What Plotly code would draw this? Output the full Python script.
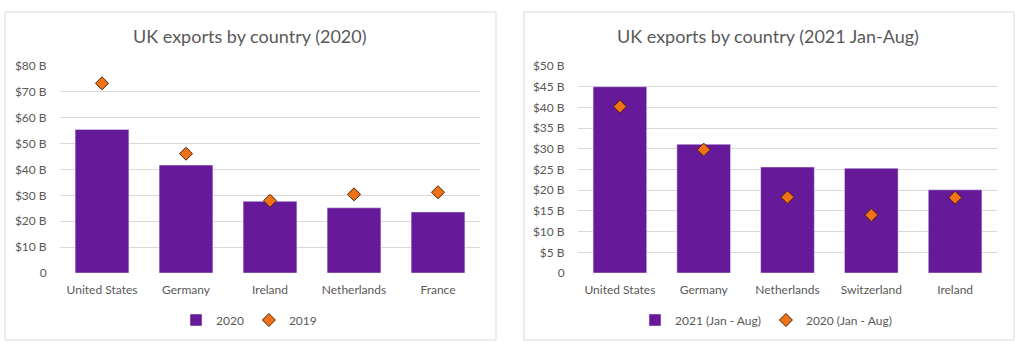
import plotly.graph_objects as go

# ---- Data ----
left_title = "UK exports by country (2020)"
left_categories = ["United States", "Germany", "Ireland", "Netherlands", "France"]
left_2020 = [55.5, 41.7, 27.7, 25.2, 23.6]
left_2019 = [73.3, 46.1, 27.9, 30.4, 31.2]
left_tickvals = [0, 10, 20, 30, 40, 50, 60, 70, 80]
left_ticktext = ["0", "$10 B", "$20 B", "$30 B", "$40 B", "$50 B", "$60 B", "$70 B", "$80 B"]

right_title = "UK exports by country (2021 Jan-Aug)"
right_categories = ["United States", "Germany", "Netherlands", "Switzerland", "Ireland"]
right_2021 = [45.0, 31.1, 25.6, 25.3, 20.1]
right_2020 = [40.2, 29.8, 18.3, 14.0, 18.2]
right_tickvals = [0, 5, 10, 15, 20, 25, 30, 35, 40, 45, 50]
right_ticktext = ["0", "$5 B", "$10 B", "$15 B", "$20 B", "$25 B", "$30 B", "$35 B", "$40 B", "$45 B", "$50 B"]

# ---- Style ----
W, H = 1024, 351
PURPLE = "#661a99"
ORANGE = "#ef7316"
DIAMOND_EDGE = "#4a2408"
GRID = "#d9d9d9"
TEXT = "#595959"
FONT = "Lato"

def px_x(p):
    return p / W

def px_y(p):
    return (H - p) / H

fig = go.Figure()

fig.add_trace(go.Bar(x=left_categories, y=left_2020, name="2020", marker_color=PURPLE,
                     xaxis="x", yaxis="y", legend="legend"))
fig.add_trace(go.Scatter(x=left_categories, y=left_2019, name="2019", mode="markers",
                         marker=dict(symbol="diamond", size=10, color=ORANGE,
                                     line=dict(color=DIAMOND_EDGE, width=1)),
                         xaxis="x", yaxis="y", legend="legend"))
fig.add_trace(go.Bar(x=right_categories, y=right_2021, name="2021 (Jan - Aug)", marker_color=PURPLE,
                     xaxis="x2", yaxis="y2", legend="legend2"))
fig.add_trace(go.Scatter(x=right_categories, y=right_2020, name="2020 (Jan - Aug)", mode="markers",
                         marker=dict(symbol="diamond", size=10, color=ORANGE,
                                     line=dict(color=DIAMOND_EDGE, width=1)),
                         xaxis="x2", yaxis="y2", legend="legend2"))

ydom = [px_y(273), px_y(66)]
common_x = dict(showgrid=False, zeroline=False, showline=False, ticks="outside", ticklen=6,
                tickcolor="rgba(0,0,0,0)", tickfont=dict(family=FONT, size=12, color=TEXT),
                fixedrange=True, automargin=False)
common_y = dict(showgrid=True, gridcolor=GRID, gridwidth=1, zeroline=False, showline=False,
                ticks="outside", ticklen=10, tickcolor="rgba(0,0,0,0)",
                tickfont=dict(family=FONT, size=12, color=TEXT), fixedrange=True,
                automargin=False)

fig.update_layout(
    width=W, height=H,
    margin=dict(l=0, r=0, t=0, b=0, pad=0, autoexpand=False),
    paper_bgcolor="white", plot_bgcolor="white",
    bargap=0.36,
    font=dict(family=FONT, color=TEXT),
    xaxis=dict(domain=[px_x(60), px_x(480)], anchor="y", **common_x),
    yaxis=dict(domain=ydom, anchor="x", range=[0, 80], tickvals=left_tickvals,
               ticktext=left_ticktext, **common_y),
    xaxis2=dict(domain=[px_x(578), px_x(997)], anchor="y2", **common_x),
    yaxis2=dict(domain=ydom, anchor="x2", range=[0, 50], tickvals=right_tickvals,
                ticktext=right_ticktext, **common_y),
    legend=dict(orientation="h", x=px_x(249), xanchor="center", y=px_y(320), yanchor="middle",
                font=dict(family=FONT, size=12, color=TEXT), itemwidth=30,
                bgcolor="rgba(0,0,0,0)"),
    legend2=dict(orientation="h", x=px_x(766), xanchor="center", y=px_y(320), yanchor="middle",
                 font=dict(family=FONT, size=12, color=TEXT), itemwidth=30,
                 bgcolor="rgba(0,0,0,0)"),
    shapes=[
        dict(type="rect", xref="paper", yref="paper", x0=px_x(5), x1=px_x(496),
             y0=px_y(340), y1=px_y(12), line=dict(color=GRID, width=1), layer="below"),
        dict(type="rect", xref="paper", yref="paper", x0=px_x(524), x1=px_x(1014),
             y0=px_y(340), y1=px_y(12), line=dict(color=GRID, width=1), layer="below"),
    ],
    annotations=[
        dict(text=left_title, xref="paper", yref="paper", x=px_x(250), y=px_y(36),
             xanchor="center", yanchor="middle", showarrow=False,
             font=dict(family=FONT, size=18, color=TEXT)),
        dict(text=right_title, xref="paper", yref="paper", x=px_x(768), y=px_y(36),
             xanchor="center", yanchor="middle", showarrow=False,
             font=dict(family=FONT, size=18, color=TEXT)),
    ],
)

fig.write_html("out.html")
